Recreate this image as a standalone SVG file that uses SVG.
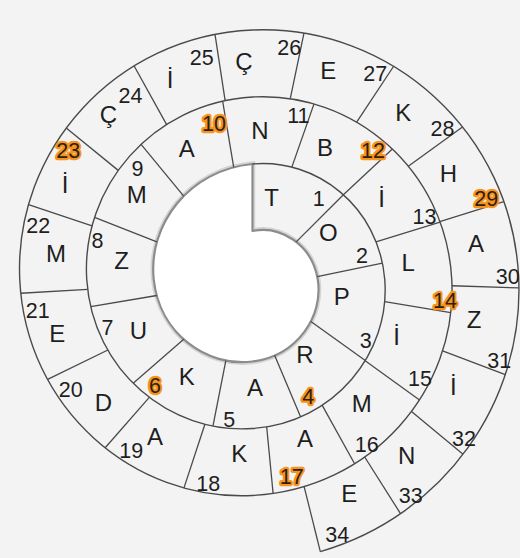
<svg xmlns="http://www.w3.org/2000/svg" width="520" height="558" viewBox="0 0 520 558">
<style>
.bg{fill:#f3f3f3}
.spiral{fill:none;stroke:#4a4a4a;stroke-width:1.4}
.hole{fill:#ffffff;stroke:#8c8c8c;stroke-width:2.2;stroke-linejoin:round}
.halo{fill:none;stroke:#d4d4d4;stroke-width:5.5}
.rad line{stroke:#4a4a4a;stroke-width:1.3}
text{font-family:"Liberation Sans",Arial,sans-serif;text-anchor:middle;fill:#1e1e1e}
.L{font-size:24px}
.n{font-size:21.5px}
.hl{font-size:21.5px;fill:#2e2010;stroke:#f7941d;stroke-width:4.5;stroke-linejoin:round;paint-order:stroke}
</style>
<rect class="bg" x="0" y="0" width="520" height="558"/>
<g id="connectors">
<path class="halo" d="M 252.5,164 L 252.5,231 C 279.29,225.11 311.86,243.46 317.75,279.5 C 323.64,315.54 297.79,355.61 252.5,361.5 C 207.21,367.39 159.64,334.04 153.75,279.5 C 147.86,224.96 188.71,169.89 252.5,164 Z"/>
<path class="hole" d="M 252.5,164 L 252.5,231 C 279.29,225.11 311.86,243.46 317.75,279.5 C 323.64,315.54 297.79,355.61 252.5,361.5 C 207.21,367.39 159.64,334.04 153.75,279.5 C 147.86,224.96 188.71,169.89 252.5,164 Z"/>
<path class="spiral" d="M 252.5,164 C 316.29,158.11 378.86,206.46 384.75,279.5 C 390.64,352.54 334.79,422.61 252.5,428.5 C 170.21,434.39 92.64,371.04 86.75,279.5 C 80.86,187.96 151.71,102.89 252.5,97 C 353.29,91.11 445.86,169.46 451.75,279.5 C 457.64,389.54 371.79,489.61 252.5,495.5 C 133.21,501.39 25.64,408.04 19.75,279.5 C 13.86,150.96 114.71,35.89 252.5,30 C 390.29,24.11 512.86,132.46 518.75,279.5 C 523.65,401.73 444.05,515.68 320.33,551.57"/>
<g class="rad">
<line x1="296.23" y1="241.89" x2="343.37" y2="194.76"/>
<line x1="317.2" y1="276.6" x2="382.4" y2="263.2"/>
<line x1="274.6" y1="355.3" x2="300.56" y2="416.74"/>
<line x1="225.83" y1="360.62" x2="212.95" y2="426.07"/>
</g>
<g class="rad" transform="translate(252.5,279.5)">
<line x1="0" x2="0" y1="-71.89" y2="-138.89" transform="rotate(125.7)"/>
<line x1="0" x2="0" y1="-91.12" y2="-158.12" transform="rotate(229)"/>
<line x1="0" x2="0" y1="-96.98" y2="-163.98" transform="rotate(260.5)"/>
<line x1="0" x2="0" y1="-102.75" y2="-169.75" transform="rotate(291.5)"/>
<line x1="0" x2="0" y1="-108.15" y2="-175.15" transform="rotate(320.5)"/>
<line x1="0" x2="0" y1="-113.73" y2="-180.73" transform="rotate(350.5)"/>
<line x1="0" x2="0" y1="-119.09" y2="-186.09" transform="rotate(19.3)"/>
<line x1="0" x2="0" y1="-124.25" y2="-191.25" transform="rotate(47)"/>
<line x1="0" x2="0" y1="-129.09" y2="-196.09" transform="rotate(73)"/>
<line x1="0" x2="0" y1="-134.02" y2="-201.02" transform="rotate(99.5)"/>
<line x1="0" x2="0" y1="-138.91" y2="-205.91" transform="rotate(125.8)"/>
<line x1="0" x2="0" y1="-143.60" y2="-210.60" transform="rotate(151)"/>
<line x1="0" x2="0" y1="-147.98" y2="-214.98" transform="rotate(174.5)"/>
<line x1="0" x2="0" y1="-152.39" y2="-219.39" transform="rotate(198.2)"/>
<line x1="0" x2="0" y1="-156.67" y2="-223.67" transform="rotate(221.2)"/>
<line x1="0" x2="0" y1="-160.91" y2="-227.91" transform="rotate(244)"/>
<line x1="0" x2="0" y1="-165.12" y2="-232.12" transform="rotate(266.6)"/>
<line x1="0" x2="0" y1="-169.19" y2="-236.19" transform="rotate(288.5)"/>
<line x1="0" x2="0" y1="-173.03" y2="-240.03" transform="rotate(309.1)"/>
<line x1="0" x2="0" y1="-177.10" y2="-244.10" transform="rotate(331)"/>
<line x1="0" x2="0" y1="-180.88" y2="-247.88" transform="rotate(351.3)"/>
<line x1="0" x2="0" y1="-184.70" y2="-251.70" transform="rotate(11.8)"/>
<line x1="0" x2="0" y1="-188.73" y2="-255.73" transform="rotate(33.5)"/>
<line x1="0" x2="0" y1="-192.55" y2="-259.55" transform="rotate(54)"/>
<line x1="0" x2="0" y1="-196.05" y2="-263.05" transform="rotate(72.8)"/>
<line x1="0" x2="0" y1="-199.58" y2="-266.58" transform="rotate(91.8)"/>
<line x1="0" x2="0" y1="-203.08" y2="-270.08" transform="rotate(110.6)"/>
<line x1="0" x2="0" y1="-206.64" y2="-273.64" transform="rotate(129.7)"/>
<line x1="0" x2="0" y1="-209.99" y2="-276.99" transform="rotate(147.7)"/>
<line x1="0" x2="0" y1="-213.39" y2="-280.39" transform="rotate(166)"/>
</g>
</g>
<g id="c1"><text class="L" x="271.7" y="205.5">T</text><text class="n" x="318.7" y="206">1</text></g>
<g id="c2"><text class="L" x="328.3" y="241.3">O</text><text class="n" x="362" y="263.3">2</text></g>
<g id="c3"><text class="L" x="341.7" y="304.5">P</text><text class="n" x="365.8" y="348.3">3</text></g>
<g id="c4"><text class="L" x="305" y="362.5">R</text><text class="hl" x="308.3" y="404">4</text></g>
<g id="c5"><text class="L" x="255" y="396">A</text><text class="n" x="229.2" y="426.7">5</text></g>
<g id="c6"><text class="L" x="186.7" y="385">K</text><text class="hl" x="155" y="393">6</text></g>
<g id="c7"><text class="L" x="138.3" y="339.3">U</text><text class="n" x="107.5" y="335">7</text></g>
<g id="c8"><text class="L" x="121.7" y="269.3">Z</text><text class="n" x="97.5" y="248.3">8</text></g>
<g id="c9"><text class="L" x="136.7" y="203.3">M</text><text class="n" x="137.5" y="176">9</text></g>
<g id="c10"><text class="L" x="186.7" y="156.7">A</text><text class="hl" x="214" y="131">10</text></g>
<g id="c11"><text class="L" x="260" y="138.5">N</text><text class="n" x="298.3" y="123.3">11</text></g>
<g id="c12"><text class="L" x="325" y="156">B</text><text class="hl" x="373" y="157.5">12</text></g>
<g id="c13"><text class="L" x="381.7" y="206.7">İ</text><text class="n" x="424.5" y="224">13</text></g>
<g id="c14"><text class="L" x="408.3" y="271">L</text><text class="hl" x="445" y="308">14</text></g>
<g id="c15"><text class="L" x="396.7" y="345">İ</text><text class="n" x="420" y="386">15</text></g>
<g id="c16"><text class="L" x="361.7" y="411.7">M</text><text class="n" x="366.7" y="451.7">16</text></g>
<g id="c17"><text class="L" x="305" y="446.7">A</text><text class="hl" x="291.7" y="484">17</text></g>
<g id="c18"><text class="L" x="239.3" y="461.7">K</text><text class="n" x="208.3" y="490.7">18</text></g>
<g id="c19"><text class="L" x="155" y="445">A</text><text class="n" x="131.3" y="458.3">19</text></g>
<g id="c20"><text class="L" x="103.3" y="411">D</text><text class="n" x="70.8" y="396.7">20</text></g>
<g id="c21"><text class="L" x="57.3" y="341.7">E</text><text class="n" x="37.7" y="318.3">21</text></g>
<g id="c22"><text class="L" x="56" y="262.3">M</text><text class="n" x="38.3" y="233.3">22</text></g>
<g id="c23"><text class="L" x="65" y="192.7">İ</text><text class="hl" x="68.3" y="157.5">23</text></g>
<g id="c24"><text class="L" x="108.3" y="123.3">Ç</text><text class="n" x="130.5" y="102.7">24</text></g>
<g id="c25"><text class="L" x="170" y="88.3">İ</text><text class="n" x="201.7" y="65">25</text></g>
<g id="c26"><text class="L" x="244" y="70">Ç</text><text class="n" x="289.3" y="55">26</text></g>
<g id="c27"><text class="L" x="328.3" y="79.3">E</text><text class="n" x="375.3" y="81">27</text></g>
<g id="c28"><text class="L" x="403.3" y="120.7">K</text><text class="n" x="442.5" y="136">28</text></g>
<g id="c29"><text class="L" x="448.3" y="181.7">H</text><text class="hl" x="486.2" y="206">29</text></g>
<g id="c30"><text class="L" x="476" y="251.7">A</text><text class="n" x="507.7" y="284">30</text></g>
<g id="c31"><text class="L" x="474" y="327.7">Z</text><text class="n" x="499.2" y="368.3">31</text></g>
<g id="c32"><text class="L" x="453.3" y="395">İ</text><text class="n" x="464" y="446">32</text></g>
<g id="c33"><text class="L" x="406.7" y="464.3">N</text><text class="n" x="410.8" y="502.7">33</text></g>
<g id="c34"><text class="L" x="349.3" y="501.7">E</text><text class="n" x="337.2" y="541.7">34</text></g>
</svg>
